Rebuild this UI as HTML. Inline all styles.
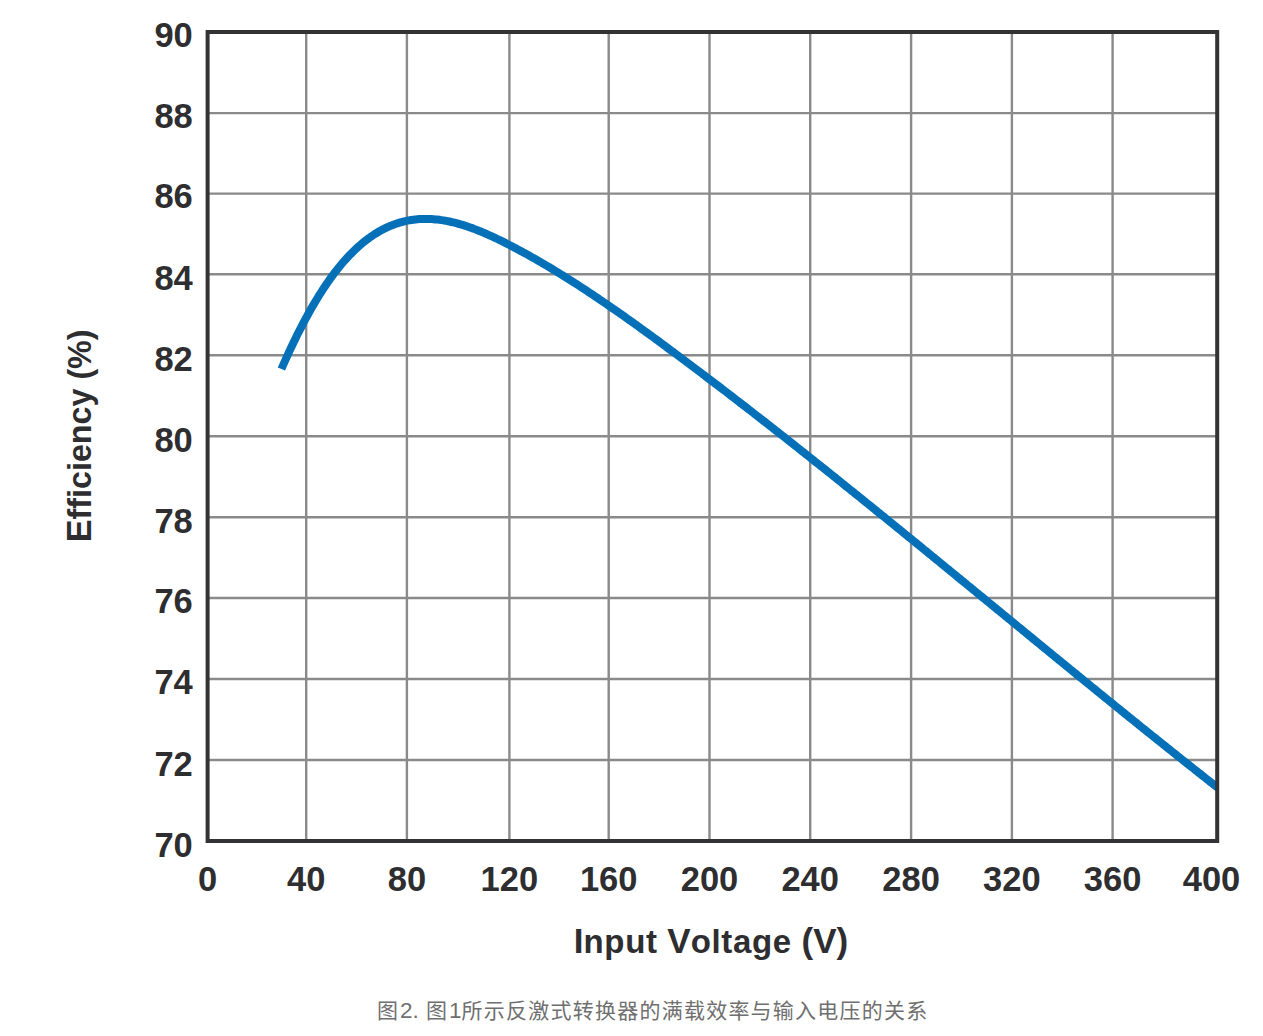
<!DOCTYPE html>
<html><head><meta charset="utf-8"><title>Efficiency vs Input Voltage</title>
<style>
html,body{margin:0;padding:0;background:#fff;}
body{width:1263px;height:1036px;position:relative;overflow:hidden;}
.t{font-family:"Liberation Sans",Arial,sans-serif;font-weight:bold;font-size:34.5px;fill:#2e2e31;}
.lc{font-size:33px;letter-spacing:0.65px;}
.ax{font-family:"Liberation Sans",Arial,sans-serif;font-weight:bold;font-size:35px;fill:#2e2e31;}
.cap{position:absolute;font-family:"Liberation Sans","Noto Sans CJK SC",sans-serif;font-size:21px;color:#6f6f6f;white-space:nowrap;line-height:30px;}
.lat{font-size:22.5px;}
</style></head><body>
<svg width="1263" height="1036" viewBox="0 0 1263 1036" style="position:absolute;left:0;top:0">
<path d="M306.2,32.0V841.0M406.9,32.0V841.0M509.4,32.0V841.0M608.7,32.0V841.0M709.5,32.0V841.0M810.2,32.0V841.0M911.1,32.0V841.0M1011.9,32.0V841.0M1112.6,32.0V841.0M207.6,113.1H1217.2M207.6,193.6H1217.2M207.6,274.3H1217.2M207.6,355.2H1217.2M207.6,436.2H1217.2M207.6,517.3H1217.2M207.6,598.0H1217.2M207.6,679.0H1217.2M207.6,760.0H1217.2" stroke="#8a8a8a" stroke-width="2.4" fill="none"/>
<clipPath id="c"><rect x="207.6" y="32.0" width="1009.6" height="809.0"/></clipPath>
<path clip-path="url(#c)" d="M281.4,369.0 L283.4,364.5 L285.4,360.0 L287.4,355.6 L289.4,351.2 L291.4,347.0 L293.4,342.8 L295.4,338.7 L297.4,334.6 L299.4,330.7 L301.4,326.8 L303.4,322.9 L305.4,319.2 L307.4,315.5 L309.4,311.9 L311.4,308.3 L313.4,304.9 L315.4,301.5 L317.4,298.2 L319.4,294.9 L321.4,291.8 L323.4,288.7 L325.4,285.7 L327.4,282.7 L329.4,279.9 L331.4,277.1 L333.4,274.4 L335.4,271.7 L337.4,269.2 L339.4,266.7 L341.4,264.3 L343.4,261.9 L345.4,259.7 L347.4,257.5 L349.4,255.3 L351.4,253.3 L353.4,251.3 L355.4,249.4 L357.4,247.5 L359.4,245.7 L361.4,244.0 L363.4,242.3 L365.4,240.7 L367.4,239.2 L369.4,237.7 L371.4,236.3 L373.4,235.0 L375.4,233.7 L377.4,232.5 L379.4,231.3 L381.4,230.2 L383.4,229.2 L385.4,228.2 L387.4,227.2 L389.4,226.3 L391.4,225.5 L393.4,224.7 L395.4,224.0 L397.4,223.3 L399.4,222.7 L401.4,222.1 L403.4,221.6 L405.4,221.1 L407.4,220.7 L409.4,220.3 L411.4,220.0 L413.4,219.7 L415.4,219.5 L417.4,219.3 L419.4,219.1 L421.4,219.0 L423.4,219.0 L425.4,218.9 L427.4,218.9 L429.4,219.0 L431.4,219.1 L433.4,219.2 L435.4,219.4 L437.4,219.6 L439.4,219.8 L441.4,220.1 L443.4,220.4 L445.4,220.7 L447.4,221.1 L449.4,221.5 L451.4,222.0 L453.4,222.4 L455.4,222.9 L457.4,223.5 L459.4,224.0 L461.4,224.6 L463.4,225.2 L465.4,225.8 L467.4,226.5 L469.4,227.2 L471.4,227.9 L473.4,228.6 L475.4,229.4 L477.4,230.2 L479.4,231.0 L481.4,231.8 L483.4,232.6 L485.4,233.5 L487.4,234.4 L489.4,235.3 L491.4,236.2 L493.4,237.1 L495.4,238.0 L497.4,239.0 L499.4,240.0 L501.4,240.9 L503.4,241.9 L505.4,242.9 L507.4,244.0 L509.4,245.0 L511.4,246.0 L513.4,247.1 L515.4,248.1 L517.4,249.2 L519.4,250.3 L521.4,251.3 L523.4,252.4 L525.4,253.5 L527.4,254.6 L529.4,255.7 L531.4,256.9 L533.4,258.0 L535.4,259.1 L537.4,260.3 L539.4,261.4 L541.4,262.6 L543.4,263.8 L545.4,264.9 L547.4,266.1 L549.4,267.3 L551.4,268.5 L553.4,269.7 L555.4,270.9 L557.4,272.1 L559.4,273.4 L561.4,274.6 L563.4,275.8 L565.4,277.1 L567.4,278.3 L569.4,279.6 L571.4,280.9 L573.4,282.2 L575.4,283.4 L577.4,284.7 L579.4,286.0 L581.4,287.3 L583.4,288.6 L585.4,289.9 L587.4,291.2 L589.4,292.6 L591.4,293.9 L593.4,295.2 L595.4,296.6 L597.4,297.9 L599.4,299.3 L601.4,300.6 L603.4,302.0 L605.4,303.3 L607.4,304.7 L609.4,306.1 L611.4,307.5 L613.4,308.9 L615.4,310.2 L617.4,311.6 L619.4,313.0 L621.4,314.4 L623.4,315.8 L625.4,317.3 L627.4,318.7 L629.4,320.1 L631.4,321.5 L633.4,322.9 L635.4,324.4 L637.4,325.8 L639.4,327.2 L641.4,328.7 L643.4,330.1 L645.4,331.6 L647.4,333.0 L649.4,334.5 L651.4,335.9 L653.4,337.4 L655.4,338.9 L657.4,340.3 L659.4,341.8 L661.4,343.3 L663.4,344.7 L665.4,346.2 L667.4,347.7 L669.4,349.2 L671.4,350.7 L673.4,352.1 L675.4,353.6 L677.4,355.1 L679.4,356.6 L681.4,358.1 L683.4,359.6 L685.4,361.1 L687.4,362.6 L689.4,364.1 L691.4,365.6 L693.4,367.1 L695.4,368.6 L697.4,370.1 L699.4,371.6 L701.4,373.1 L703.4,374.6 L705.4,376.2 L707.4,377.7 L709.4,379.2 L711.4,380.7 L713.4,382.2 L715.4,383.8 L717.4,385.3 L719.4,386.8 L721.4,388.3 L723.4,389.9 L725.4,391.4 L727.4,392.9 L729.4,394.5 L731.4,396.0 L733.4,397.5 L735.4,399.1 L737.4,400.6 L739.4,402.2 L741.4,403.7 L743.4,405.3 L745.4,406.8 L747.4,408.3 L749.4,409.9 L751.4,411.4 L753.4,413.0 L755.4,414.6 L757.4,416.1 L759.4,417.7 L761.4,419.2 L763.4,420.8 L765.4,422.3 L767.4,423.9 L769.4,425.5 L771.4,427.0 L773.4,428.6 L775.4,430.2 L777.4,431.7 L779.4,433.3 L781.4,434.9 L783.4,436.4 L785.4,438.0 L787.4,439.6 L789.4,441.2 L791.4,442.7 L793.4,444.3 L795.4,445.9 L797.4,447.5 L799.4,449.1 L801.4,450.7 L803.4,452.2 L805.4,453.8 L807.4,455.4 L809.4,457.0 L811.4,458.6 L813.4,460.2 L815.4,461.8 L817.4,463.4 L819.4,465.0 L821.4,466.5 L823.4,468.1 L825.4,469.7 L827.4,471.3 L829.4,472.9 L831.4,474.5 L833.4,476.1 L835.4,477.7 L837.4,479.3 L839.4,480.9 L841.4,482.5 L843.4,484.2 L845.4,485.8 L847.4,487.4 L849.4,489.0 L851.4,490.6 L853.4,492.2 L855.4,493.8 L857.4,495.4 L859.4,497.0 L861.4,498.6 L863.4,500.3 L865.4,501.9 L867.4,503.5 L869.4,505.1 L871.4,506.7 L873.4,508.3 L875.4,509.9 L877.4,511.6 L879.4,513.2 L881.4,514.8 L883.4,516.4 L885.4,518.0 L887.4,519.7 L889.4,521.3 L891.4,522.9 L893.4,524.5 L895.4,526.2 L897.4,527.8 L899.4,529.4 L901.4,531.0 L903.4,532.7 L905.4,534.3 L907.4,535.9 L909.4,537.6 L911.4,539.2 L913.4,540.8 L915.4,542.4 L917.4,544.1 L919.4,545.7 L921.4,547.3 L923.4,549.0 L925.4,550.6 L927.4,552.2 L929.4,553.9 L931.4,555.5 L933.4,557.1 L935.4,558.8 L937.4,560.4 L939.4,562.0 L941.4,563.7 L943.4,565.3 L945.4,567.0 L947.4,568.6 L949.4,570.2 L951.4,571.9 L953.4,573.5 L955.4,575.1 L957.4,576.8 L959.4,578.4 L961.4,580.1 L963.4,581.7 L965.4,583.3 L967.4,585.0 L969.4,586.6 L971.4,588.2 L973.4,589.9 L975.4,591.5 L977.4,593.2 L979.4,594.8 L981.4,596.4 L983.4,598.1 L985.4,599.7 L987.4,601.4 L989.4,603.0 L991.4,604.6 L993.4,606.3 L995.4,607.9 L997.4,609.6 L999.4,611.2 L1001.4,612.8 L1003.4,614.5 L1005.4,616.1 L1007.4,617.8 L1009.4,619.4 L1011.4,621.0 L1013.4,622.7 L1015.4,624.3 L1017.4,626.0 L1019.4,627.6 L1021.4,629.2 L1023.4,630.9 L1025.4,632.5 L1027.4,634.2 L1029.4,635.8 L1031.4,637.4 L1033.4,639.1 L1035.4,640.7 L1037.4,642.4 L1039.4,644.0 L1041.4,645.6 L1043.4,647.3 L1045.4,648.9 L1047.4,650.5 L1049.4,652.2 L1051.4,653.8 L1053.4,655.5 L1055.4,657.1 L1057.4,658.7 L1059.4,660.4 L1061.4,662.0 L1063.4,663.6 L1065.4,665.3 L1067.4,666.9 L1069.4,668.5 L1071.4,670.2 L1073.4,671.8 L1075.4,673.4 L1077.4,675.1 L1079.4,676.7 L1081.4,678.3 L1083.4,680.0 L1085.4,681.6 L1087.4,683.2 L1089.4,684.8 L1091.4,686.5 L1093.4,688.1 L1095.4,689.7 L1097.4,691.4 L1099.4,693.0 L1101.4,694.6 L1103.4,696.2 L1105.4,697.9 L1107.4,699.5 L1109.4,701.1 L1111.4,702.7 L1113.4,704.3 L1115.4,706.0 L1117.4,707.6 L1119.4,709.2 L1121.4,710.8 L1123.4,712.4 L1125.4,714.1 L1127.4,715.7 L1129.4,717.3 L1131.4,718.9 L1133.4,720.5 L1135.4,722.1 L1137.4,723.7 L1139.4,725.4 L1141.4,727.0 L1143.4,728.6 L1145.4,730.2 L1147.4,731.8 L1149.4,733.4 L1151.4,735.0 L1153.4,736.6 L1155.4,738.2 L1157.4,739.8 L1159.4,741.4 L1161.4,743.0 L1163.4,744.6 L1165.4,746.2 L1167.4,747.8 L1169.4,749.4 L1171.4,751.0 L1173.4,752.6 L1175.4,754.2 L1177.4,755.8 L1179.4,757.4 L1181.4,759.0 L1183.4,760.6 L1185.4,762.2 L1187.4,763.8 L1189.4,765.3 L1191.4,766.9 L1193.4,768.5 L1195.4,770.1 L1197.4,771.7 L1199.4,773.3 L1201.4,774.8 L1203.4,776.4 L1205.4,778.0 L1207.4,779.6 L1209.4,781.2 L1211.4,782.7 L1213.4,784.3 L1215.4,785.9 L1218.0,787.9 L1222.0,791.1" stroke="#0470b8" stroke-width="8" fill="none" stroke-linecap="butt" stroke-linejoin="round"/>
<rect x="207.6" y="32.0" width="1009.6" height="809.0" stroke="#333336" stroke-width="4.0" fill="none"/>
<text x="192.8" y="47.1" text-anchor="end" class="t">90</text>
<text x="192.8" y="127.7" text-anchor="end" class="t">88</text>
<text x="192.8" y="208.2" text-anchor="end" class="t">86</text>
<text x="192.8" y="290.4" text-anchor="end" class="t">84</text>
<text x="192.8" y="371.4" text-anchor="end" class="t">82</text>
<text x="192.8" y="451.8" text-anchor="end" class="t">80</text>
<text x="192.8" y="532.6" text-anchor="end" class="t">78</text>
<text x="192.8" y="612.9" text-anchor="end" class="t">76</text>
<text x="192.8" y="693.8" text-anchor="end" class="t">74</text>
<text x="192.8" y="775.7" text-anchor="end" class="t">72</text>
<text x="192.8" y="856.5" text-anchor="end" class="t">70</text>
<text x="207.6" y="891.2" text-anchor="middle" class="t">0</text>
<text x="306.2" y="891.2" text-anchor="middle" class="t">40</text>
<text x="406.9" y="891.2" text-anchor="middle" class="t">80</text>
<text x="509.4" y="891.2" text-anchor="middle" class="t">120</text>
<text x="608.7" y="891.2" text-anchor="middle" class="t">160</text>
<text x="709.5" y="891.2" text-anchor="middle" class="t">200</text>
<text x="810.2" y="891.2" text-anchor="middle" class="t">240</text>
<text x="911.1" y="891.2" text-anchor="middle" class="t">280</text>
<text x="1011.9" y="891.2" text-anchor="middle" class="t">320</text>
<text x="1112.6" y="891.2" text-anchor="middle" class="t">360</text>
<text x="1211.5" y="891.2" text-anchor="middle" class="t">400</text>
<text x="573.8" y="953.2" class="ax">I<tspan class="lc">nput</tspan> V<tspan class="lc">oltage</tspan> (V)</text>
<text transform="translate(91.3,542.3) rotate(-90) scale(0.978,1)" x="0" y="0" class="ax" style="font-size:35px">E<tspan style="font-size:33px">fficiency (%)</tspan></text>
</svg>
<div class="cap" style="left:377px;top:996px">图</div><div class="cap lat" style="left:400px;top:996px">2.</div><div class="cap" style="left:426px;top:996px">图</div><div class="cap lat" style="left:449px;top:996px">1</div><div class="cap" style="left:461.5px;top:996px;letter-spacing:1.24px">所示反激式转换器的满载效率与输入电压的关系</div>
</body></html>
